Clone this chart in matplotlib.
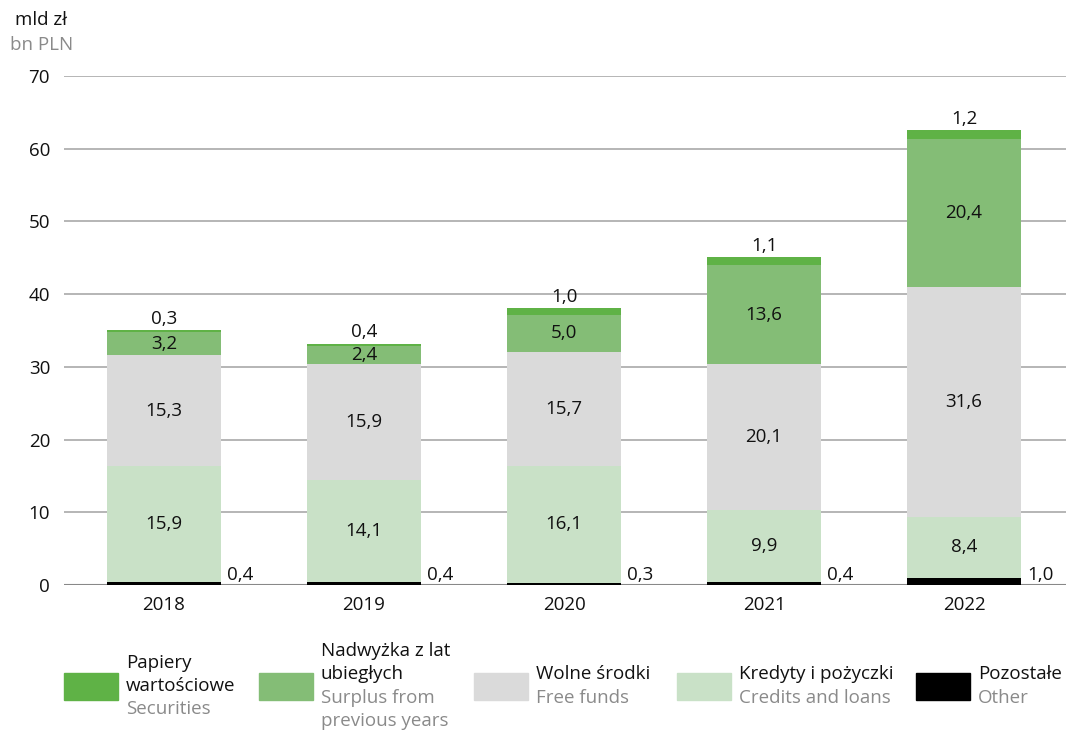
import matplotlib.pyplot as plt
from matplotlib.patches import Rectangle

plt.rcParams['font.family'] = ['Open Sans', 'DejaVu Sans']

years = ["2018", "2019", "2020", "2021", "2022"]
other = [0.4, 0.4, 0.3, 0.4, 1.0]
credits = [15.9, 14.1, 16.1, 9.9, 8.4]
free_funds = [15.3, 15.9, 15.7, 20.1, 31.6]
surplus = [3.2, 2.4, 5.0, 13.6, 20.4]
securities = [0.3, 0.4, 1.0, 1.1, 1.2]

c_sec = "#5fb246"
c_sur = "#84bd76"
c_free = "#dadada"
c_cred = "#c9e1c7"
c_oth = "#000000"

FS = 13.5
W, H = 1066, 732
fig = plt.figure(figsize=(W / 100, H / 100), dpi=100)
ax = fig.add_axes([64 / W, 1 - 585 / H, 1 - 64 / W, (585 - 76) / H])

x = list(range(len(years)))
bw = 0.57

def fmt(v):
    return f"{v:.1f}".replace(".", ",")

bottom = [0.0] * len(years)
for vals, col, inside in [(other, c_oth, False), (credits, c_cred, True),
                          (free_funds, c_free, True), (surplus, c_sur, True),
                          (securities, c_sec, False)]:
    ax.bar(x, vals, bw, bottom=bottom, color=col, zorder=3)
    if inside:
        for i, v in enumerate(vals):
            ax.text(x[i], bottom[i] + v / 2, fmt(v), ha="center", va="center",
                    fontsize=FS, color="#111111", zorder=4)
    bottom = [b + v for b, v in zip(bottom, vals)]

# labels for securities above the bar, other to the right
for i in x:
    ax.text(i, bottom[i] + 0.3, fmt(securities[i]), ha="center", va="bottom",
            fontsize=FS, color="#111111")
    ax.text(i + bw / 2 + 0.03, 0.2, fmt(other[i]), ha="left", va="bottom",
            fontsize=FS, color="#111111")

ax.set_xlim(-0.5, 4.51)
ax.set_ylim(0, 70)
ax.set_yticks(range(0, 71, 10))
ax.set_xticks(x)
ax.set_xticklabels(years)
ax.tick_params(axis="both", length=0, labelsize=FS, colors="#111111")
ax.tick_params(axis="y", pad=10)
ax.tick_params(axis="x", pad=8)
ax.grid(axis="y", color="#b0b0b0", linewidth=1.3, zorder=0)
ax.axhline(0, color="#888888", linewidth=1.5, zorder=2)
for s in ax.spines.values():
    s.set_visible(False)

fig.text(15 / W, 1 - 20 / H, "mld zł", fontsize=FS, color="#111111", va="center")
fig.text(10 / W, 1 - 45 / H, "bn PLN", fontsize=FS, color="#8a8a8a", va="center")

# legend
legend_items = [
    (64, c_sec, ["Papiery", "wartościowe"], ["Securities"]),
    (259, c_sur, ["Nadwyżka z lat", "ubiegłych"], ["Surplus from", "previous years"]),
    (474, c_free, ["Wolne środki"], ["Free funds"]),
    (677, c_cred, ["Kredyty i pożyczki"], ["Credits and loans"]),
    (916, c_oth, ["Pozostałe"], ["Other"]),
]
for px, col, pl, en in legend_items:
    fig.add_artist(Rectangle((px / W, 1 - 700 / H), 54 / W, 27 / H,
                             transform=fig.transFigure, color=col))
    lines = [(t, "#111111") for t in pl] + [(t, "#8a8a8a") for t in en]
    n = len(lines)
    y0 = 686 - (n - 1) * 23.5 / 2
    for k, (t, c) in enumerate(lines):
        fig.text((px + 62) / W, 1 - (y0 + k * 23.5) / H, t, fontsize=FS,
                 color=c, va="center", ha="left")

fig.savefig("out.png", dpi=100)
